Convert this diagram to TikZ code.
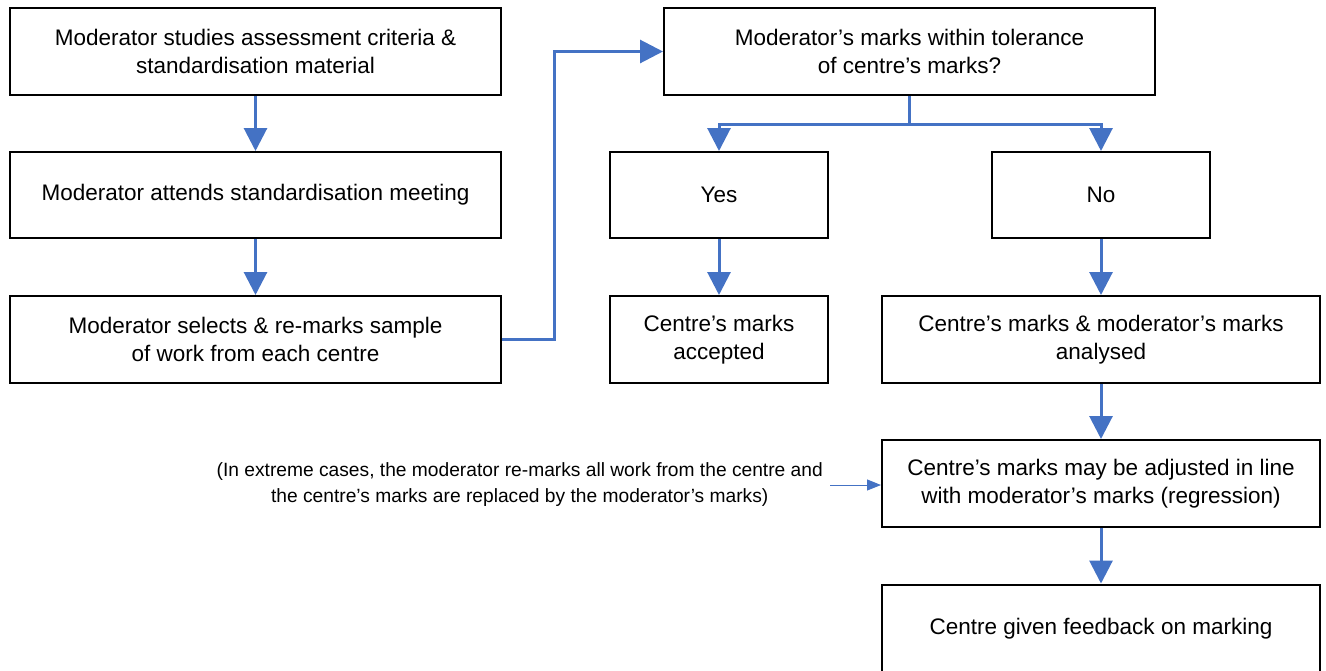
\documentclass[tikz,border=0pt]{standalone}
\usepackage{fontspec}
\setmainfont{Liberation Sans}
\usetikzlibrary{arrows.meta}
\definecolor{flowblue}{HTML}{4472C4}
\tikzset{
  box/.style={draw=black, line width=2pt, rectangle, inner sep=0pt, align=center,
    font=\fontsize{22.5}{28}\selectfont},
  arr/.style={draw=flowblue, line width=3pt, -{Triangle[width=23pt,length=23pt]}},
  plain/.style={draw=flowblue, line width=3pt},
  thinarr/.style={draw=flowblue, line width=1pt, -{Triangle[width=11pt,length=14pt]}},
  note/.style={inner ysep=0pt, inner xsep=7pt, align=center, font=\fontsize{19.2}{26}\selectfont}
}
\begin{document}
\begin{tikzpicture}[x=1pt,y=-1pt]
\useasboundingbox (0,0) rectangle (1326,670);
\node[box, minimum width=491pt, minimum height=87pt] (b1) at (255.5,51.5) {Moderator studies assessment criteria \&\\standardisation material};
\node[box, minimum width=491pt, minimum height=86pt] (b2) at (255.5,195) {Moderator attends standardisation meeting};
\node[box, minimum width=491pt, minimum height=87pt] (b3) at (255.5,339.5) {Moderator selects \& re-marks sample\\of work from each centre};
\node[box, minimum width=491pt, minimum height=87pt] (q) at (909.5,51.5) {Moderator’s marks within tolerance\\of centre’s marks?};
\node[box, minimum width=218pt, minimum height=86pt] (yes) at (719,195) {Yes};
\node[box, minimum width=218pt, minimum height=86pt] (no) at (1101,195) {No};
\node[box, minimum width=218pt, minimum height=87pt] (acc) at (719,339.5) {Centre’s marks\\accepted};
\node[box, minimum width=438pt, minimum height=87pt] (ana) at (1101,339.5) {Centre’s marks \& moderator’s marks\\analysed};
\node[box, minimum width=438pt, minimum height=87pt] (adj) at (1101,483.5) {Centre’s marks may be adjusted in line\\with moderator’s marks (regression)};
\node[box, minimum width=438pt, minimum height=89pt] (fb) at (1101,629) {Centre given feedback on marking};
\node[note, anchor=east] (nt) at (830,485) {(In extreme cases, the moderator re-marks all work from the centre and\\the centre’s marks are replaced by the moderator’s marks)};

\draw[arr] (b1) -- (b2);
\draw[arr] (b2) -- (b3);
\draw[arr] (b3.east) -- ++(52,0) |- (q.west);
\draw[plain] (q.south) -- ++(0,28) coordinate (split);
\draw[arr] (split) -| (yes.north);
\draw[arr] (split) -| (no.north);
\draw[arr] (yes) -- (acc);
\draw[arr] (no) -- (ana);
\draw[arr] (ana) -- (adj);
\draw[arr] (adj) -- (fb);
\draw[thinarr] (nt.east) -- (adj.west |- nt.east);
\end{tikzpicture}
\end{document}
